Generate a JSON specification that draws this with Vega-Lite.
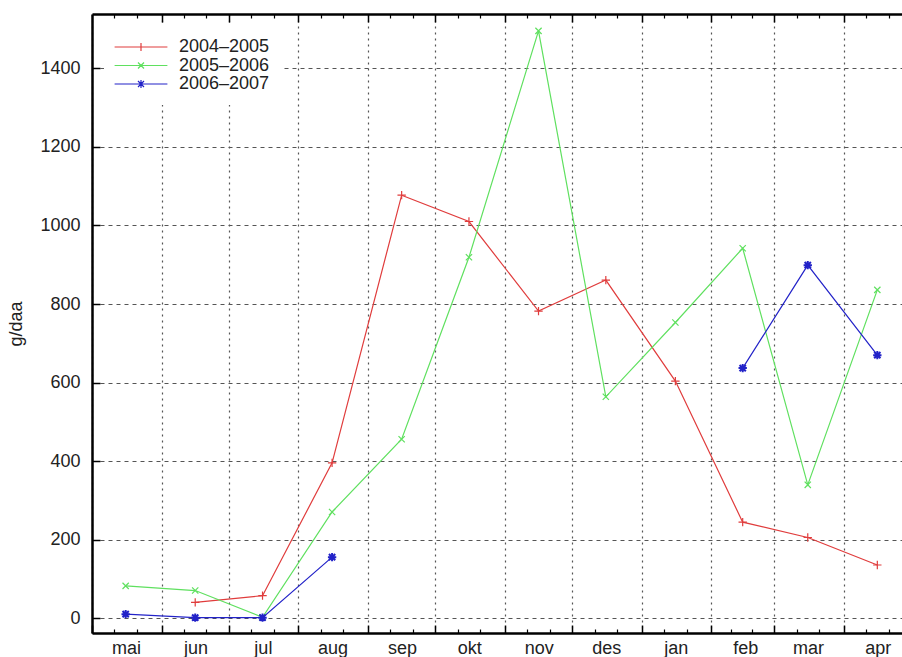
{
  "$schema": "https://vega.github.io/schema/vega-lite/v6.json",
  "autosize": {"type": "none"},
  "padding": {"left": 92, "top": 14, "right": 0, "bottom": 24},
  "width": 810,
  "height": 619,
  "background": "white",
  "data": {
    "values": [
      {"series": "2004–2005", "date": "2004-06-16", "value": 41},
      {"series": "2004–2005", "date": "2004-07-16", "value": 58},
      {"series": "2004–2005", "date": "2004-08-16", "value": 396},
      {"series": "2004–2005", "date": "2004-09-16", "value": 1077},
      {"series": "2004–2005", "date": "2004-10-16", "value": 1010},
      {"series": "2004–2005", "date": "2004-11-16", "value": 782},
      {"series": "2004–2005", "date": "2004-12-16", "value": 861},
      {"series": "2004–2005", "date": "2005-01-16", "value": 604},
      {"series": "2004–2005", "date": "2005-02-15", "value": 245},
      {"series": "2004–2005", "date": "2005-03-16", "value": 206},
      {"series": "2004–2005", "date": "2005-04-16", "value": 136},
      {"series": "2005–2006", "date": "2004-05-16", "value": 83},
      {"series": "2005–2006", "date": "2004-06-16", "value": 71},
      {"series": "2005–2006", "date": "2004-07-16", "value": 3},
      {"series": "2005–2006", "date": "2004-08-16", "value": 271},
      {"series": "2005–2006", "date": "2004-09-16", "value": 456},
      {"series": "2005–2006", "date": "2004-10-16", "value": 919},
      {"series": "2005–2006", "date": "2004-11-16", "value": 1495},
      {"series": "2005–2006", "date": "2004-12-16", "value": 564},
      {"series": "2005–2006", "date": "2005-01-16", "value": 753},
      {"series": "2005–2006", "date": "2005-02-15", "value": 942},
      {"series": "2005–2006", "date": "2005-03-16", "value": 340},
      {"series": "2005–2006", "date": "2005-04-16", "value": 836},
      {"series": "2006–2007", "date": "2004-05-16", "value": 11},
      {"series": "2006–2007", "date": "2004-06-16", "value": 2},
      {"series": "2006–2007", "date": "2004-07-16", "value": 2},
      {"series": "2006–2007", "date": "2004-08-16", "value": 156},
      {"series": "2006–2007", "date": "2004-09-16", "value": null},
      {"series": "2006–2007", "date": "2005-01-16", "value": null},
      {"series": "2006–2007", "date": "2005-02-15", "value": 637},
      {"series": "2006–2007", "date": "2005-03-16", "value": 899},
      {"series": "2006–2007", "date": "2005-04-16", "value": 670}
    ]
  },
  "encoding": {
    "y": {
      "field": "value",
      "type": "quantitative",
      "scale": {"domain": [-37, 1538], "nice": false, "zero": false},
      "axis": {
        "title": "g/daa",
        "values": [0, 200, 400, 600, 800, 1000, 1200, 1400],
        "format": "d",
        "grid": true,
        "gridDash": [4, 4],
        "gridColor": "#555",
        "gridWidth": 1,
        "tickSize": -8,
        "tickColor": "black",
        "tickWidth": 1.5,
        "domainColor": "black",
        "domainWidth": 2.5,
        "labelPadding": 20,
        "titlePadding": 14
      }
    }
  },
  "layer": [
    {
      "mark": {"type": "line", "invalid": "break-paths-filter-domains"},
      "encoding": {
        "x": {
          "field": "date",
          "type": "temporal",
          "scale": {
            "type": "utc",
            "domain": [
              {"year": 2004, "month": 5, "date": 1, "utc": true},
              {"year": 2005, "month": 4, "date": 27, "utc": true}
            ]
          },
          "axis": {
            "orient": "bottom",
            "title": null,
            "values": [
              {"year": 2004, "month": 5, "date": 1, "utc": true},
              {"year": 2004, "month": 6, "date": 1, "utc": true},
              {"year": 2004, "month": 7, "date": 1, "utc": true},
              {"year": 2004, "month": 8, "date": 1, "utc": true},
              {"year": 2004, "month": 9, "date": 1, "utc": true},
              {"year": 2004, "month": 10, "date": 1, "utc": true},
              {"year": 2004, "month": 11, "date": 1, "utc": true},
              {"year": 2004, "month": 12, "date": 1, "utc": true},
              {"year": 2005, "month": 1, "date": 1, "utc": true},
              {"year": 2005, "month": 2, "date": 1, "utc": true},
              {"year": 2005, "month": 3, "date": 1, "utc": true},
              {"year": 2005, "month": 4, "date": 1, "utc": true}
            ],
            "labelExpr": "['jan','feb','mar','apr','mai','jun','jul','aug','sep','okt','nov','des'][utcmonth(datum.value)]",
            "labelOffset": 34,
            "labelFlush": false,
            "labelOverlap": false,
            "labelPadding": 14,
            "grid": true,
            "gridDash": [2, 4],
            "gridColor": "#555",
            "gridWidth": 1.2,
            "tickSize": -8,
            "tickColor": "black",
            "tickWidth": 1.5,
            "domainColor": "black",
            "domainWidth": 2.5
          }
        },
        "color": {
          "field": "series",
          "type": "nominal",
          "scale": {
            "domain": ["2004–2005", "2005–2006", "2006–2007"],
            "range": ["#e03c3c", "#5fe05f", "#2222c8"]
          },
          "legend": {
            "title": null,
            "orient": "top-left",
            "offset": 12,
            "padding": 12,
            "fillColor": "white",
            "symbolSize": 64,
            "symbolOpacity": 1,
            "symbolStrokeWidth": 1.5,
            "labelOffset": 45,
            "labelFontSize": 18,
            "rowPadding": 0.5
          }
        },
        "strokeWidth": {
          "field": "series",
          "type": "nominal",
          "scale": {"domain": ["2004–2005", "2005–2006", "2006–2007"], "range": [1.2, 1.2, 2]},
          "legend": null
        }
      }
    },
    {
      "transform": [{"filter": "datum.series === '2004–2005'"}],
      "mark": {"type": "point", "filled": false, "size": 70, "opacity": 1, "color": "#e03c3c", "strokeWidth": 1.2, "shape": "M-1,0H1M0,-1V1"},
      "encoding": {
        "x": {
          "field": "date",
          "type": "temporal",
          "axis": {
            "orient": "top",
            "title": null,
            "labels": false,
            "grid": false,
            "values": [
              {"year": 2004, "month": 6, "date": 1, "utc": true},
              {"year": 2004, "month": 7, "date": 1, "utc": true},
              {"year": 2004, "month": 8, "date": 1, "utc": true},
              {"year": 2004, "month": 9, "date": 1, "utc": true},
              {"year": 2004, "month": 10, "date": 1, "utc": true},
              {"year": 2004, "month": 11, "date": 1, "utc": true},
              {"year": 2004, "month": 12, "date": 1, "utc": true},
              {"year": 2005, "month": 1, "date": 1, "utc": true},
              {"year": 2005, "month": 2, "date": 1, "utc": true},
              {"year": 2005, "month": 3, "date": 1, "utc": true},
              {"year": 2005, "month": 4, "date": 1, "utc": true}
            ],
            "tickSize": -8,
            "tickColor": "black",
            "tickWidth": 1.5,
            "domainColor": "black",
            "domainWidth": 2.5
          }
        }
      }
    },
    {
      "transform": [{"filter": "datum.series === '2005–2006'"}],
      "mark": {"type": "point", "filled": false, "size": 70, "opacity": 1, "color": "#5fe05f", "strokeWidth": 1.2, "shape": "M-0.75,-0.75L0.75,0.75M-0.75,0.75L0.75,-0.75"},
      "encoding": {
        "x": {
          "field": "date",
          "type": "temporal",
          "axis": {
            "orient": "bottom",
            "title": null,
            "labels": false,
            "grid": false,
            "domain": false,
            "values": [
              {"year": 2004, "month": 5, "date": 11, "utc": true}, {"year": 2004, "month": 5, "date": 21, "utc": true},
              {"year": 2004, "month": 6, "date": 11, "utc": true}, {"year": 2004, "month": 6, "date": 21, "utc": true},
              {"year": 2004, "month": 7, "date": 11, "utc": true}, {"year": 2004, "month": 7, "date": 21, "utc": true},
              {"year": 2004, "month": 8, "date": 11, "utc": true}, {"year": 2004, "month": 8, "date": 21, "utc": true},
              {"year": 2004, "month": 9, "date": 11, "utc": true}, {"year": 2004, "month": 9, "date": 21, "utc": true},
              {"year": 2004, "month": 10, "date": 11, "utc": true}, {"year": 2004, "month": 10, "date": 21, "utc": true},
              {"year": 2004, "month": 11, "date": 11, "utc": true}, {"year": 2004, "month": 11, "date": 21, "utc": true},
              {"year": 2004, "month": 12, "date": 11, "utc": true}, {"year": 2004, "month": 12, "date": 21, "utc": true},
              {"year": 2005, "month": 1, "date": 11, "utc": true}, {"year": 2005, "month": 1, "date": 21, "utc": true},
              {"year": 2005, "month": 2, "date": 10, "utc": true}, {"year": 2005, "month": 2, "date": 19, "utc": true},
              {"year": 2005, "month": 3, "date": 11, "utc": true}, {"year": 2005, "month": 3, "date": 21, "utc": true},
              {"year": 2005, "month": 4, "date": 11, "utc": true}, {"year": 2005, "month": 4, "date": 21, "utc": true}
            ],
            "tickSize": -4,
            "tickColor": "black",
            "tickWidth": 1.2
          }
        }
      }
    },
    {
      "transform": [{"filter": "datum.series === '2006–2007'"}],
      "mark": {"type": "point", "filled": false, "size": 70, "opacity": 1, "color": "#2222c8", "strokeWidth": 2, "shape": "M-1,0H1M0,-1V1M-0.75,-0.75L0.75,0.75M-0.75,0.75L0.75,-0.75"},
      "encoding": {
        "x": {
          "field": "date",
          "type": "temporal",
          "axis": {
            "orient": "top",
            "title": null,
            "labels": false,
            "grid": false,
            "domain": false,
            "values": [
              {"year": 2004, "month": 5, "date": 11, "utc": true}, {"year": 2004, "month": 5, "date": 21, "utc": true},
              {"year": 2004, "month": 6, "date": 11, "utc": true}, {"year": 2004, "month": 6, "date": 21, "utc": true},
              {"year": 2004, "month": 7, "date": 11, "utc": true}, {"year": 2004, "month": 7, "date": 21, "utc": true},
              {"year": 2004, "month": 8, "date": 11, "utc": true}, {"year": 2004, "month": 8, "date": 21, "utc": true},
              {"year": 2004, "month": 9, "date": 11, "utc": true}, {"year": 2004, "month": 9, "date": 21, "utc": true},
              {"year": 2004, "month": 10, "date": 11, "utc": true}, {"year": 2004, "month": 10, "date": 21, "utc": true},
              {"year": 2004, "month": 11, "date": 11, "utc": true}, {"year": 2004, "month": 11, "date": 21, "utc": true},
              {"year": 2004, "month": 12, "date": 11, "utc": true}, {"year": 2004, "month": 12, "date": 21, "utc": true},
              {"year": 2005, "month": 1, "date": 11, "utc": true}, {"year": 2005, "month": 1, "date": 21, "utc": true},
              {"year": 2005, "month": 2, "date": 10, "utc": true}, {"year": 2005, "month": 2, "date": 19, "utc": true},
              {"year": 2005, "month": 3, "date": 11, "utc": true}, {"year": 2005, "month": 3, "date": 21, "utc": true},
              {"year": 2005, "month": 4, "date": 11, "utc": true}, {"year": 2005, "month": 4, "date": 21, "utc": true}
            ],
            "tickSize": -4,
            "tickColor": "black",
            "tickWidth": 1.2
          }
        }
      }
    },
    {
      "mark": {"type": "point", "opacity": 0, "filled": false, "size": 64},
      "encoding": {
        "x": {"field": "date", "type": "temporal", "axis": null},
        "color": {
          "field": "series",
          "type": "nominal",
          "legend": {
            "title": null,
            "orient": "top-left",
            "offset": 12,
            "padding": 12,
            "fillColor": "white",
            "symbolSize": 64,
            "symbolOpacity": 1,
            "symbolStrokeWidth": 1.5,
            "labelOffset": 45,
            "labelFontSize": 18,
            "rowPadding": 0.5
          }
        },
        "shape": {
          "field": "series",
          "type": "nominal",
          "scale": {
            "domain": ["2004–2005", "2005–2006", "2006–2007"],
            "range": [
              "M-2.6,0H10.6M4,-1V1",
              "M-2.6,0H10.6M3.25,-0.75L4.75,0.75M3.25,0.75L4.75,-0.75",
              "M-2.6,0H10.6M3,0H5M4,-1V1M3.25,-0.75L4.75,0.75M3.25,0.75L4.75,-0.75"
            ]
          },
          "legend": {
            "title": null,
            "orient": "top-left",
            "offset": 12,
            "padding": 12,
            "fillColor": "white",
            "symbolSize": 64,
            "symbolOpacity": 1,
            "symbolStrokeWidth": 1.5,
            "labelOffset": 45,
            "labelFontSize": 18,
            "rowPadding": 0.5
          }
        }
      }
    }
  ],
  "resolve": {"axis": {"x": "independent"}},
  "view": {"stroke": null},
  "config": {
    "font": "Liberation Sans",
    "axis": {"labelFontSize": 18, "titleFontSize": 18, "labelColor": "#222", "titleColor": "#222", "titleFontWeight": "normal"},
    "legend": {"labelFontSize": 18, "labelColor": "#222"}
  }
}
